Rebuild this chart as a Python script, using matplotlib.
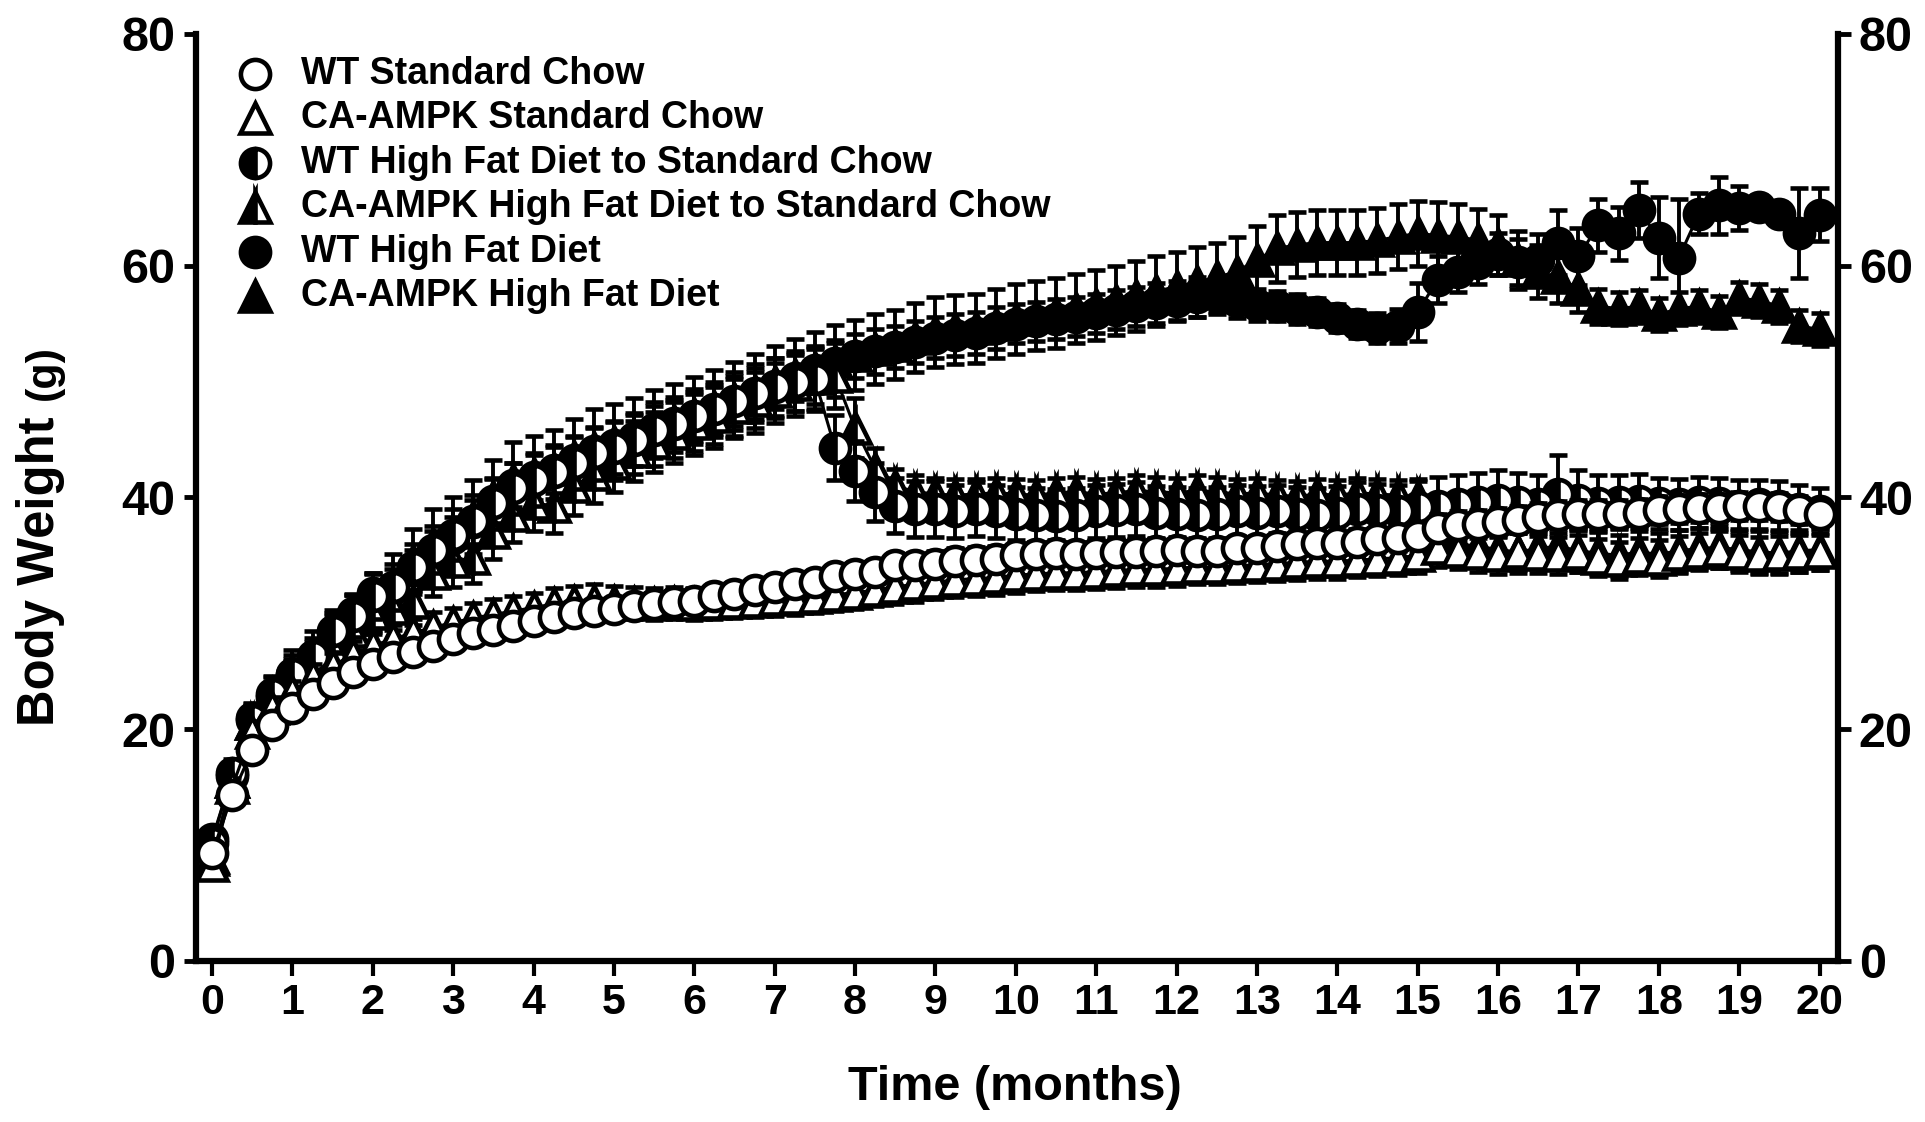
import matplotlib
matplotlib.use("Agg")
import matplotlib.pyplot as plt
import numpy as np

# time grid (months), one reading every quarter month
months = np.arange(81) * 0.25

wt_sc = [9.3, 14.3, 18.2, 20.4, 21.8, 23.0, 24.0, 24.9, 25.6, 26.2,
         26.7, 27.2, 27.8, 28.3, 28.6, 28.9, 29.3, 29.7, 30.0, 30.2,
         30.4, 30.6, 30.8, 31.0, 31.1, 31.5, 31.7, 32.0, 32.3, 32.5,
         32.7, 33.2, 33.4, 33.6, 34.2, 34.2, 34.3, 34.5, 34.6, 34.7,
         35.0, 35.1, 35.2, 35.1, 35.2, 35.3, 35.3, 35.4, 35.5, 35.4,
         35.4, 35.6, 35.6, 35.8, 36.0, 36.1, 36.1, 36.2, 36.4, 36.5,
         36.7, 37.4, 37.6, 37.7, 37.9, 38.1, 38.3, 38.5, 38.6, 38.6,
         38.6, 38.7, 38.9, 39.0, 39.1, 39.1, 39.3, 39.3, 39.2, 38.9,
         38.6]
wt_sc_sem = [0.5, 0.6, 0.6, 0.6, 0.7, 0.7, 0.7, 0.7, 0.8, 0.8,
             0.8, 0.8, 0.8, 0.8, 0.9, 0.9, 0.9, 0.9, 0.9, 0.9,
             0.9, 0.9, 0.9, 1.0, 1.0, 1.0, 1.0, 1.0, 1.0, 1.0,
             1.0, 1.0, 1.0, 1.0, 1.0, 1.0, 1.1, 1.1, 1.1, 1.1,
             1.1, 1.1, 1.1, 1.1, 1.1, 1.1, 1.1, 1.1, 1.1, 1.1,
             1.1, 1.1, 1.1, 1.1, 1.1, 1.1, 1.1, 1.1, 1.1, 1.1,
             1.2, 1.2, 1.2, 1.2, 1.2, 1.2, 1.2, 1.2, 1.2, 1.2,
             1.2, 1.2, 1.2, 1.2, 1.2, 1.2, 1.2, 1.2, 1.2, 1.2,
             1.2]

ca_sc = [8.3, 15.0, 19.8, 21.8, 23.2, 24.5, 25.5, 26.4, 27.2, 27.8,
         28.3, 28.8, 29.2, 29.6, 29.9, 30.2, 30.5, 30.8, 31.0, 31.1,
         31.0, 30.9, 30.8, 30.9, 30.8, 30.9, 31.0, 31.1, 31.2, 31.3,
         31.4, 31.6, 31.8, 32.0, 32.3, 32.5, 32.7, 32.9, 33.0, 33.1,
         33.3, 33.4, 33.5, 33.5, 33.6, 33.7, 33.8, 33.8, 33.9, 34.0,
         34.0, 34.1, 34.2, 34.3, 34.4, 34.5, 34.5, 34.6, 34.7, 34.8,
         35.0, 35.6, 35.4, 35.2, 35.0, 35.3, 35.1, 35.0, 35.2, 34.8,
         34.6, 34.9, 34.7, 35.1, 35.3, 35.5, 35.2, 35.0, 35.1, 35.2,
         35.3]
ca_sc_sem = [0.6, 0.8, 0.9, 1.0, 1.0, 1.1, 1.1, 1.2, 1.2, 1.2,
             1.2, 1.3, 1.3, 1.3, 1.3, 1.3, 1.3, 1.4, 1.4, 1.4,
             1.4, 1.4, 1.4, 1.4, 1.4, 1.4, 1.4, 1.4, 1.4, 1.4,
             1.4, 1.4, 1.4, 1.4, 1.5, 1.5, 1.5, 1.5, 1.5, 1.5,
             1.5, 1.5, 1.5, 1.5, 1.5, 1.5, 1.5, 1.5, 1.5, 1.5,
             1.5, 1.5, 1.5, 1.5, 1.5, 1.5, 1.5, 1.5, 1.5, 1.5,
             1.5, 1.6, 1.6, 1.6, 1.6, 1.6, 1.6, 1.6, 1.6, 1.6,
             1.6, 1.6, 1.6, 1.6, 1.6, 1.6, 1.6, 1.6, 1.6, 1.6,
             1.6]

wt_hfd_sc = [10.2, 16.2, 20.8, 23.0, 24.8, 26.3, 28.5, 29.8, 31.5, 32.3,
             34.0, 35.5, 36.8, 38.0, 39.5, 40.8, 41.5, 42.2, 43.0, 43.8,
             44.3, 45.0, 45.8, 46.3, 47.0, 47.6, 48.3, 49.0, 49.5, 50.0,
             50.2, 44.3, 42.3, 40.5, 39.3, 39.0, 39.0, 38.8, 39.0, 38.8,
             38.6, 38.5, 38.4, 38.5, 38.8, 38.9, 39.0, 38.7, 38.6, 38.5,
             38.6, 38.8, 38.7, 38.8, 38.6, 38.5, 38.7, 39.0, 38.9, 38.8,
             39.2, 39.3, 39.4, 39.6, 39.8, 39.6, 39.4, 40.3, 39.8, 39.5,
             39.6, 39.7, 39.5, 39.4, 39.6, 39.5, 39.3, 39.4, 39.3, 39.0,
             38.8]
wt_hfd_sc_sem = [0.8, 1.2, 1.5, 1.5, 1.6, 1.6, 1.8, 1.8, 2.0, 2.0,
                 2.0, 2.0, 2.2, 2.2, 2.2, 2.2, 2.2, 2.3, 2.3, 2.3,
                 2.3, 2.3, 2.4, 2.4, 2.4, 2.4, 2.5, 2.5, 2.5, 2.5,
                 2.6, 2.8, 2.6, 2.5, 2.4, 2.4, 2.4, 2.3, 2.3, 2.3,
                 2.3, 2.3, 2.3, 2.3, 2.3, 2.3, 2.3, 2.3, 2.3, 2.3,
                 2.3, 2.3, 2.3, 2.3, 2.3, 2.3, 2.3, 2.3, 2.3, 2.3,
                 2.4, 2.5, 2.5, 2.5, 2.6, 2.5, 2.5, 3.4, 2.6, 2.4,
                 2.3, 2.3, 2.2, 2.2, 2.2, 2.2, 2.2, 2.1, 2.1, 2.1,
                 2.0]

ca_hfd_sc = [8.8, 15.5, 20.5, 22.5, 24.5, 25.5, 27.0, 28.5, 30.0, 30.5,
             31.0, 33.5, 34.5, 34.8, 37.0, 38.5, 39.5, 39.3, 41.0, 42.0,
             43.0, 44.0, 44.8, 45.6, 46.4, 47.0, 47.8, 48.4, 49.2, 49.8,
             50.3, 50.5, 46.0, 42.5, 41.0, 40.5, 40.3, 40.2, 40.3, 40.4,
             40.3, 40.2, 40.4, 40.5, 40.3, 40.4, 40.6, 40.5, 40.4, 40.6,
             40.5, 40.3, 40.4, 40.2, 40.1, 40.3, 40.2, 40.4, 40.3, 40.2,
             40.0, 36.3, 36.0, 35.8, 35.5, 35.3, 35.6, 35.8, 35.4, 35.2,
             35.0, 35.3, 35.1, 35.4, 35.6, 35.7, 35.5, 35.3, 35.2, 35.4,
             35.5]
ca_hfd_sc_sem = [0.7, 1.0, 1.2, 1.3, 1.4, 1.5, 1.6, 1.7, 1.8, 1.9,
                 2.0, 2.0, 2.2, 2.2, 2.3, 2.3, 2.4, 2.4, 2.5, 2.5,
                 2.5, 2.6, 2.6, 2.6, 2.7, 2.7, 2.7, 2.8, 2.8, 2.8,
                 2.8, 2.8, 2.6, 1.8, 1.5, 1.4, 1.4, 1.4, 1.3, 1.3,
                 1.3, 1.3, 1.3, 1.3, 1.3, 1.3, 1.3, 1.3, 1.3, 1.3,
                 1.3, 1.3, 1.3, 1.3, 1.3, 1.3, 1.3, 1.3, 1.3, 1.3,
                 1.4, 1.6, 1.7, 1.7, 1.7, 1.8, 1.8, 1.8, 1.8, 1.8,
                 1.8, 1.8, 1.8, 1.8, 1.8, 1.8, 1.8, 1.8, 1.8, 1.8,
                 1.8]

wt_hfd = [10.5, 16.0, 21.0, 22.8, 24.7, 26.0, 28.3, 30.0, 31.8, 32.1,
          33.7, 35.3, 36.5, 37.9, 39.7, 41.1, 41.8, 42.4, 43.2, 44.0,
          44.5, 45.1, 45.9, 46.4, 46.9, 47.5, 48.2, 48.8, 49.6, 50.3,
          51.0, 51.6, 52.2, 52.6, 53.0, 53.4, 53.8, 54.0, 54.2, 54.6,
          55.0, 55.2, 55.4, 55.6, 55.9, 56.2, 56.5, 56.8, 57.0, 57.3,
          57.4, 57.0, 56.6, 56.5, 56.3, 56.0, 55.5, 55.0, 54.6, 54.8,
          56.0, 58.8, 59.5, 60.2, 61.0, 60.3, 60.5, 62.0, 60.8, 63.5,
          62.8, 64.8, 62.4, 60.7, 64.5, 65.2, 65.0, 65.1, 64.5, 62.8,
          64.4]
wt_hfd_sem = [0.8, 1.0, 1.2, 1.3, 1.4, 1.5, 1.6, 1.6, 1.7, 1.7,
              1.8, 1.8, 1.8, 1.9, 1.9, 1.9, 2.0, 2.0, 2.0, 2.0,
              2.0, 2.0, 2.0, 2.0, 2.0, 2.0, 2.0, 2.0, 2.0, 2.0,
              2.0, 2.0, 1.9, 1.9, 1.8, 1.8, 1.8, 1.8, 1.8, 1.8,
              1.7, 1.7, 1.7, 1.7, 1.7, 1.7, 1.7, 1.7, 1.7, 1.7,
              1.6, 1.5, 1.4, 1.3, 1.3, 1.2, 1.2, 1.2, 1.3, 1.5,
              2.5, 2.0, 1.8, 1.8, 1.8, 2.0, 2.2, 2.8, 2.5, 2.3,
              2.3, 2.4, 3.5, 5.1, 1.8, 2.5, 1.9, 1.0, 1.0, 3.9,
              2.3]

ca_hfd = [9.0, 15.5, 20.5, 23.0, 25.0, 26.5, 28.0, 29.5, 31.0, 32.5,
          34.5, 36.0, 37.0, 38.3, 40.0, 41.5, 42.0, 42.5, 43.5, 44.3,
          44.8, 45.3, 46.0, 46.6, 47.2, 47.8, 48.5, 49.2, 50.0, 50.6,
          51.2, 51.8, 52.3, 52.8, 53.2, 53.8, 54.3, 54.5, 54.6, 55.0,
          55.4, 55.7, 55.9, 56.3, 56.6, 57.0, 57.4, 57.8, 58.2, 58.6,
          59.0, 59.5, 60.5, 61.5, 61.8, 62.0, 62.0, 62.0, 62.2, 62.5,
          62.8, 62.6, 62.5, 62.2, 61.8, 60.5, 59.5, 59.0, 58.0, 56.5,
          56.3, 56.5, 55.8, 56.3, 56.5, 56.0, 57.2, 57.0, 56.5, 54.8,
          54.5]
ca_hfd_sem = [0.8, 1.2, 1.5, 1.6, 1.8, 2.0, 2.0, 2.2, 2.4, 2.6,
              2.8, 3.0, 3.0, 3.2, 3.2, 3.3, 3.3, 3.3, 3.3, 3.3,
              3.3, 3.3, 3.3, 3.2, 3.2, 3.2, 3.2, 3.2, 3.1, 3.1,
              3.1, 3.1, 3.0, 3.0, 3.0, 3.0, 3.0, 3.0, 3.0, 3.0,
              3.0, 3.0, 3.0, 3.0, 3.0, 3.0, 3.0, 3.0, 3.0, 3.0,
              3.0, 3.0, 2.9, 2.9, 2.8, 2.8, 2.8, 2.8, 2.8, 2.8,
              2.8, 2.9, 2.8, 2.7, 2.6, 2.5, 2.3, 2.2, 2.0, 1.5,
              1.4, 1.4, 1.4, 1.4, 1.4, 1.4, 1.4, 1.4, 1.4, 1.4,
              1.4]

labels = ["WT Standard Chow", "CA-AMPK Standard Chow",
          "WT High Fat Diet to Standard Chow",
          "CA-AMPK High Fat Diet to Standard Chow",
          "WT High Fat Diet", "CA-AMPK High Fat Diet"]

plt.rcParams["font.family"] = ["Liberation Sans", "DejaVu Sans"]
plt.rcParams["font.weight"] = "bold"

# marker, fillstyle, facecolor for each series (legend order)
styles = [("o", "full", "white"), ("^", "full", "white"),
          ("o", "left", "black"), ("^", "left", "black"),
          ("o", "full", "black"), ("^", "full", "black")]
series = [(wt_sc, wt_sc_sem), (ca_sc, ca_sc_sem),
          (wt_hfd_sc, wt_hfd_sc_sem), (ca_hfd_sc, ca_hfd_sc_sem),
          (wt_hfd, wt_hfd_sem), (ca_hfd, ca_hfd_sem)]

MS_CIRCLE = 21
MS_TRI = 22

fig = plt.figure(figsize=(19.25, 11.22), dpi=100)
ax = fig.add_axes([0.1018, 0.1435, 0.853, 0.8262])

# draw last legend entry first so WT Standard Chow ends up on top
for i in reversed(range(len(series))):
    vals, sem = series[i]
    marker, fs, fc = styles[i]
    ms = MS_CIRCLE if marker == "o" else MS_TRI
    ax.errorbar(months, vals, yerr=sem, color="black", lw=2.2,
                marker=marker, ms=ms, mfc=fc, mfcalt="white",
                fillstyle=fs, mec="black", mew=3.3,
                elinewidth=2.8, capsize=6.5, capthick=3.3,
                zorder=10 - i, clip_on=False)

ax.set_xlim(-0.2, 20.23)
ax.set_ylim(0, 80)
ax.set_xticks(range(0, 21))
ax.set_yticks(range(0, 81, 20))
ax.spines["top"].set_visible(False)
for side in ["left", "right", "bottom"]:
    ax.spines[side].set_linewidth(4.5)
ax.tick_params(axis="x", direction="out", length=11, width=3,
               labelsize=31, pad=5)
ax.tick_params(axis="y", direction="out", length=9, width=3.5,
               labelsize=35, pad=6, right=True, labelright=True)
for lab in ax.get_xticklabels() + ax.get_yticklabels():
    lab.set_fontweight("bold")

# legend drawn by hand in axes coordinates
for k, (lab, (marker, fs, fc)) in enumerate(zip(labels, styles)):
    yk = 0.9568 - k * 0.0479
    ms = MS_CIRCLE if marker == "o" else MS_TRI
    ax.plot([0.0359], [yk], transform=ax.transAxes, ls="none",
            marker=marker, ms=ms, mfc=fc, mfcalt="white", fillstyle=fs,
            mec="black", mew=3.3, clip_on=False, zorder=20)
    ax.text(0.0639, yk, lab, transform=ax.transAxes, va="center",
            ha="left", fontsize=27, fontweight="bold", zorder=20)

fig.text(0.021, 0.491, "Body Weight", rotation=90, ha="center",
         va="center", fontsize=36.5, fontweight="bold")
fig.text(0.023, 0.668, "(g)", rotation=90, ha="center",
         va="center", fontsize=31, fontweight="bold")
fig.text(0.527, 0.031, "Time (months)", ha="center", va="center",
         fontsize=35, fontweight="bold")

fig.savefig("out.png", dpi=100)
